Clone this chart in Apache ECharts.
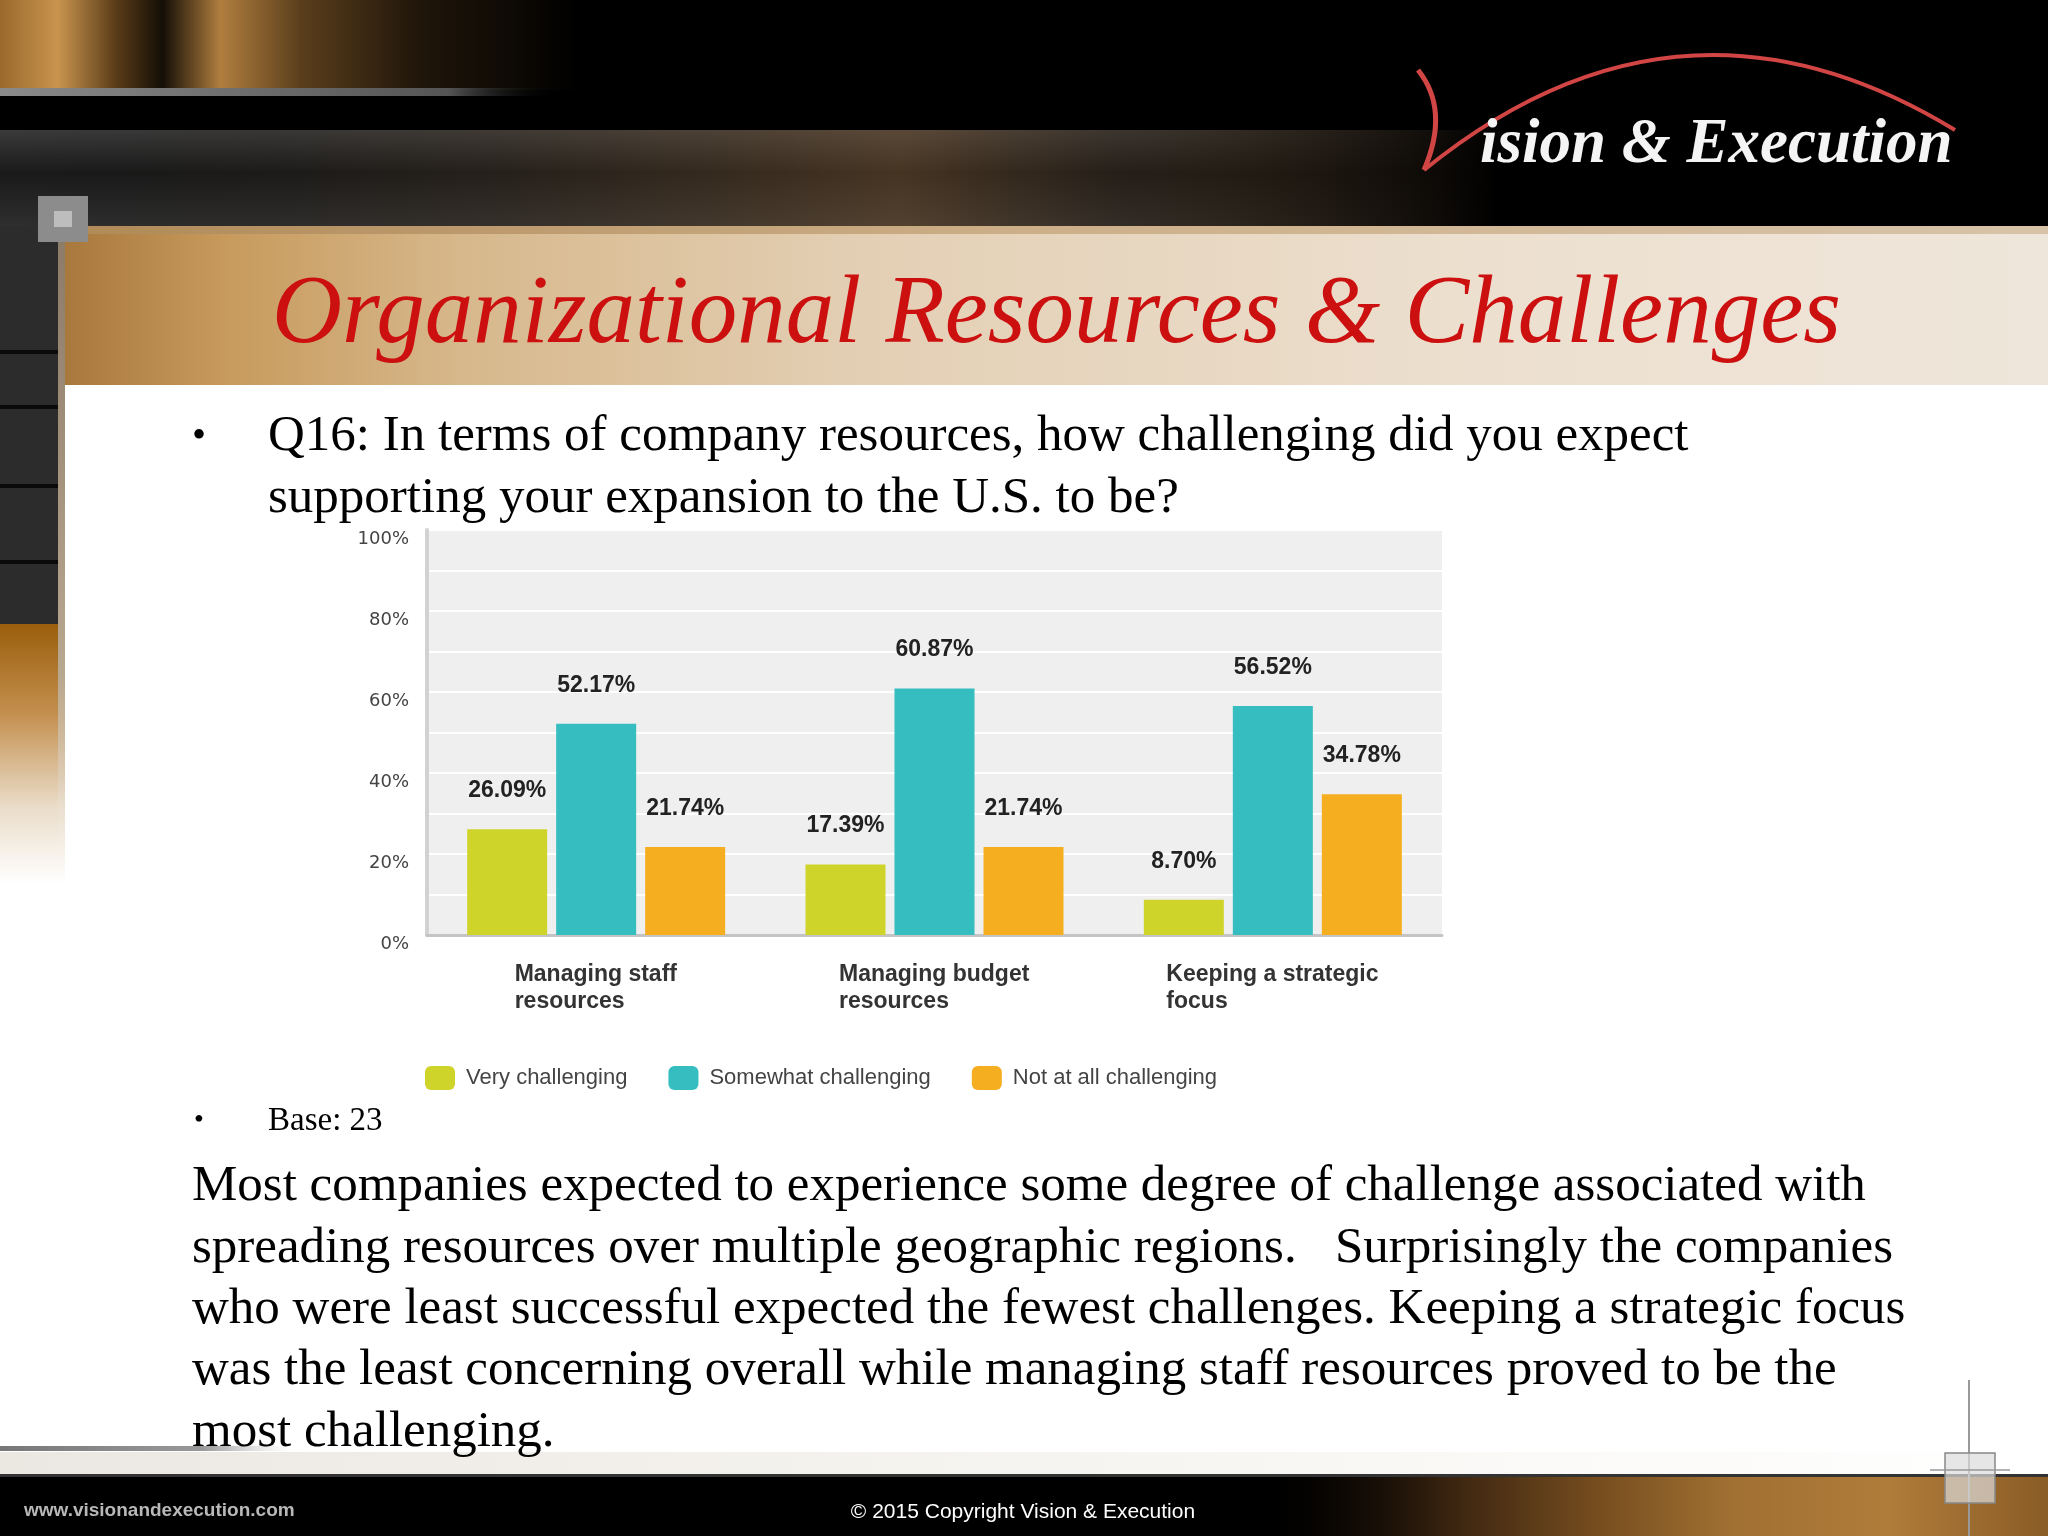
<!DOCTYPE html>
<html>
<head>
<meta charset="utf-8">
<title>Organizational Resources &amp; Challenges</title>
<script src="https://cdn.jsdelivr.net/npm/echarts@6/dist/echarts.min.js"></script>
<style>
  html, body { margin: 0; padding: 0; background: #ffffff; }
  #chart { width: 2048px; height: 1536px; }
</style>
</head>
<body>
<div id="chart"></div>
<script>
// ---------- data ----------
const categories = ['Managing staff\nresources', 'Managing budget\nresources', 'Keeping a strategic\nfocus'];
const seriesNames = ['Very challenging', 'Somewhat challenging', 'Not at all challenging'];
const veryChallenging = [26.09, 17.39, 8.70];
const somewhatChallenging = [52.17, 60.87, 56.52];
const notAtAllChallenging = [21.74, 21.74, 34.78];
const yMin = 0, yMax = 100, yInterval = 20;

const titleText = 'Organizational Resources & Challenges';
const questionLines = ['Q16: In terms of company resources, how challenging did you expect',
                       'supporting your expansion to the U.S. to be?'];
const baseText = 'Base: 23';
const paragraphLines = [
  'Most companies expected to experience some degree of challenge associated with',
  'spreading resources over multiple geographic regions.   Surprisingly the companies',
  'who were least successful expected the fewest challenges. Keeping a strategic focus',
  'was the least concerning overall while managing staff resources proved to be the',
  'most challenging.'
];
const logoText = 'ision & Execution';
const footerLeft = 'www.visionandexecution.com';
const footerCenter = '\u00A9 2015 Copyright Vision & Execution';

// ---------- styles ----------
const colors = ['#cfd42b', '#35bdbf', '#f5ae20'];
const catFont = 'bold 23px "Liberation Sans", Arial, sans-serif';
const serif = '"Liberation Serif", "Times New Roman", serif';

// measure category label widths so lines are left-aligned inside a centred block
const mctx = document.createElement('canvas').getContext('2d');
mctx.font = catFont;
const catRich = {};
categories.forEach((c, i) => {
  const w = Math.max(...c.split('\n').map(l => mctx.measureText(l).width));
  catRich['c' + i] = { width: Math.ceil(w), align: 'left', fontWeight: 'bold', fontSize: 23,
    fontFamily: '"Liberation Sans", Arial, sans-serif', color: '#333', lineHeight: 27 };
});

const chart = echarts.init(document.getElementById('chart'), null, { renderer: 'canvas' });

function mkSeries(name, data, color) {
  return {
    name: name, type: 'bar', data: data, barWidth: 80, barGap: '11.25%',
    itemStyle: { color: color },
    label: {
      show: true, position: 'top', distance: 27,
      formatter: p => p.value.toFixed(2) + '%',
      fontFamily: '"Liberation Sans", Arial, sans-serif', fontWeight: 'bold', fontSize: 23, color: '#222'
    },
    z: 3
  };
}

const graphics = [
  // ---- header ----
  { type: 'rect', shape: { x: 0, y: 0, width: 2048, height: 226 }, style: { fill: '#000' }, z: -10 },
  { type: 'rect', shape: { x: 0, y: 0, width: 580, height: 90 }, z: -9,
    style: { fill: new echarts.graphic.LinearGradient(0, 0, 1, 0, [
      { offset: 0, color: '#9a6a2c' }, { offset: 0.1, color: '#c8944e' }, { offset: 0.2, color: '#5a3c18' },
      { offset: 0.28, color: '#140e06' }, { offset: 0.38, color: '#b07e3e' }, { offset: 0.52, color: '#5a3e1c' },
      { offset: 0.72, color: '#20160a' }, { offset: 1, color: '#000' }]) } },
  { type: 'rect', shape: { x: 0, y: 88, width: 560, height: 8 }, z: -8,
    style: { fill: new echarts.graphic.LinearGradient(0, 0, 1, 0, [
      { offset: 0, color: '#8a8a8a' }, { offset: 0.8, color: '#555' }, { offset: 1, color: 'rgba(0,0,0,0)' }]) } },
  { type: 'rect', shape: { x: 0, y: 130, width: 1500, height: 96 }, z: -9,
    style: { fill: new echarts.graphic.LinearGradient(0, 0, 0, 1, [
      { offset: 0, color: '#3a3a3a' }, { offset: 0.45, color: '#1a1a1a' }, { offset: 1, color: '#2e2e2e' }]) } },
  { type: 'rect', shape: { x: 0, y: 130, width: 1500, height: 96 }, z: -8,
    style: { fill: new echarts.graphic.LinearGradient(0, 0, 1, 0, [
      { offset: 0, color: 'rgba(0,0,0,0)' }, { offset: 0.45, color: 'rgba(120,80,40,0.25)' },
      { offset: 0.6, color: 'rgba(150,100,50,0.35)' }, { offset: 0.75, color: 'rgba(60,40,20,0.3)' },
      { offset: 1, color: 'rgba(0,0,0,1)' }]) } },
  // logo
  { type: 'bezierCurve', z: 5, shape: { x1: 1418, y1: 70, x2: 1424, y2: 170, cpx1: 1450, cpy1: 110 },
    style: { stroke: '#d24545', lineWidth: 5, fill: null } },
  { type: 'bezierCurve', z: 5, shape: { x1: 1424, y1: 170, x2: 1955, y2: 130, cpx1: 1680, cpy1: -38 },
    style: { stroke: '#d24545', lineWidth: 4, fill: null } },
  { type: 'text', x: 1480, y: 146, z: 6,
    style: { text: logoText, fill: '#f4f4f4', font: 'italic bold 63px ' + serif, align: 'left', verticalAlign: 'middle' } },
  // ---- title band ----
  { type: 'rect', shape: { x: 65, y: 226, width: 1983, height: 159 }, z: -9,
    style: { fill: new echarts.graphic.LinearGradient(0, 0, 1, 0, [
      { offset: 0, color: '#a9783c' }, { offset: 0.08, color: '#c79a5c' }, { offset: 0.2, color: '#d7b88c' },
      { offset: 0.4, color: '#e3cfb4' }, { offset: 0.7, color: '#ecdfce' }, { offset: 1, color: '#efe6db' }]) } },
  { type: 'rect', shape: { x: 65, y: 226, width: 1983, height: 8 }, z: -8,
    style: { fill: new echarts.graphic.LinearGradient(0, 0, 1, 0, [
      { offset: 0, color: '#b08a58' }, { offset: 0.5, color: '#cdb08a' }, { offset: 1, color: '#d8c3a8' }]) } },
  { type: 'text', x: 272, y: 316, z: 6,
    style: { text: titleText, fill: '#cc1010', font: 'italic 97px ' + serif, align: 'left', verticalAlign: 'middle' } },
  // ---- left strip ----
  { type: 'rect', shape: { x: 0, y: 226, width: 65, height: 400 }, z: -9, style: { fill: '#2c2c2c' } },
  { type: 'rect', shape: { x: 0, y: 350, width: 65, height: 4 }, z: -8, style: { fill: '#0a0a0a' } },
  { type: 'rect', shape: { x: 0, y: 405, width: 65, height: 4 }, z: -8, style: { fill: '#0a0a0a' } },
  { type: 'rect', shape: { x: 0, y: 484, width: 65, height: 4 }, z: -8, style: { fill: '#0a0a0a' } },
  { type: 'rect', shape: { x: 0, y: 560, width: 65, height: 4 }, z: -8, style: { fill: '#0a0a0a' } },
  { type: 'rect', shape: { x: 0, y: 624, width: 65, height: 260 }, z: -9,
    style: { fill: new echarts.graphic.LinearGradient(0, 0, 0, 1, [
      { offset: 0, color: '#9a5e0c' }, { offset: 0.35, color: '#c49050' }, { offset: 0.7, color: '#eadcc8' }, { offset: 1, color: '#ffffff' }]) } },
  { type: 'rect', shape: { x: 58, y: 226, width: 7, height: 640 }, z: -7,
    style: { fill: new echarts.graphic.LinearGradient(0, 0, 0, 1, [
      { offset: 0, color: '#8a7a66' }, { offset: 0.7, color: '#b8a890' }, { offset: 1, color: 'rgba(255,255,255,0)' }]) } },
  { type: 'rect', shape: { x: 38, y: 196, width: 50, height: 46 }, z: -6, style: { fill: '#8c8c8c' } },
  { type: 'rect', shape: { x: 54, y: 211, width: 18, height: 16 }, z: -5, style: { fill: '#bdbdbd' } },
  // ---- body text ----
  { type: 'text', x: 199, y: 437, z: 6, style: { text: '\u2022', fill: '#000', font: '40px ' + serif, align: 'center', verticalAlign: 'middle' } },
  { type: 'text', x: 268, y: 437, z: 6, style: { text: questionLines[0], fill: '#000', font: '51px ' + serif, align: 'left', verticalAlign: 'middle' } },
  { type: 'text', x: 268, y: 499, z: 6, style: { text: questionLines[1], fill: '#000', font: '51px ' + serif, align: 'left', verticalAlign: 'middle' } },
  { type: 'text', x: 199, y: 1121, z: 6, style: { text: '\u2022', fill: '#000', font: '28px ' + serif, align: 'center', verticalAlign: 'middle' } },
  { type: 'text', x: 268, y: 1121, z: 6, style: { text: baseText, fill: '#000', font: '33px ' + serif, align: 'left', verticalAlign: 'middle' } },
  // ---- footer ----
  { type: 'rect', shape: { x: 0, y: 1452, width: 2048, height: 24 }, z: -9,
    style: { fill: new echarts.graphic.LinearGradient(0, 0, 1, 0, [
      { offset: 0, color: '#ebe8e2' }, { offset: 0.5, color: '#f6f4f0' }, { offset: 1, color: '#ffffff' }]) } },
  { type: 'rect', shape: { x: 0, y: 1446, width: 290, height: 5 }, z: -8,
    style: { fill: new echarts.graphic.LinearGradient(0, 0, 1, 0, [
      { offset: 0, color: '#777' }, { offset: 0.7, color: '#999' }, { offset: 1, color: 'rgba(200,200,200,0)' }]) } },
  { type: 'rect', shape: { x: 0, y: 1476, width: 2048, height: 60 }, z: -9, style: { fill: '#000' } },
  { type: 'rect', shape: { x: 1250, y: 1476, width: 798, height: 60 }, z: -8,
    style: { fill: new echarts.graphic.LinearGradient(0, 0, 1, 0, [
      { offset: 0, color: 'rgba(0,0,0,0)' }, { offset: 0.25, color: '#3a2410' }, { offset: 0.45, color: '#7a5020' },
      { offset: 0.6, color: '#a07032' }, { offset: 0.8, color: '#b07c3a' }, { offset: 1, color: '#8a5c26' }]) } },
  { type: 'rect', shape: { x: 0, y: 1474, width: 2048, height: 3 }, z: -7, style: { fill: '#333' } },
  { type: 'line', shape: { x1: 1969, y1: 1380, x2: 1969, y2: 1536 }, z: -6, style: { stroke: '#999', lineWidth: 2 } },
  { type: 'rect', shape: { x: 1945, y: 1453, width: 50, height: 50 }, z: -6, style: { fill: 'rgba(220,220,220,0.7)', stroke: '#888', lineWidth: 1.5 } },
  { type: 'line', shape: { x1: 1930, y1: 1470, x2: 2010, y2: 1470 }, z: -6, style: { stroke: '#999', lineWidth: 1.5 } },
  { type: 'text', x: 24, y: 1511, z: 6, style: { text: footerLeft, fill: '#b8b8b8', font: 'bold 19px "Liberation Sans", Arial, sans-serif', align: 'left', verticalAlign: 'middle' } },
  { type: 'text', x: 1023, y: 1512, z: 6, style: { text: footerCenter, fill: '#ffffff', font: '21px "Liberation Sans", Arial, sans-serif', align: 'center', verticalAlign: 'middle' } }
];
paragraphLines.forEach((line, i) => {
  graphics.push({ type: 'text', x: 192, y: 1187 + i * 61.3, z: 6,
    style: { text: line, fill: '#000', font: '51px ' + serif, align: 'left', verticalAlign: 'middle' } });
});

const option = {
  backgroundColor: '#ffffff',
  animation: false,
  grid: { left: 427, top: 530, right: 606, bottom: 601, show: true, backgroundColor: '#efefef', borderWidth: 0, containLabel: false },
  legend: {
    data: seriesNames, left: 420, top: 1061, icon: 'roundRect', itemWidth: 30, itemHeight: 24, itemGap: 41,
    textStyle: { fontFamily: '"Liberation Sans", Arial, sans-serif', fontSize: 22, color: '#444', padding: [0, 0, 0, 6] }
  },
  xAxis: {
    type: 'category', data: categories,
    axisLine: { show: true, lineStyle: { color: '#c4c4c4', width: 3 } },
    axisTick: { show: false },
    axisLabel: {
      margin: 26, interval: 0,
      formatter: (v, i) => v.split('\n').map(l => '{c' + i + '|' + l + '}').join('\n'),
      rich: catRich
    }
  },
  yAxis: {
    type: 'value', min: yMin, max: yMax, interval: yInterval,
    axisLine: { show: true, lineStyle: { color: '#d2d2d2', width: 4 } },
    axisTick: { show: false },
    axisLabel: { formatter: '{value}%', margin: 18, fontFamily: '"DejaVu Sans", Verdana, sans-serif', fontSize: 18, color: '#444', verticalAlign: 'top' },
    splitLine: { show: true, lineStyle: { color: '#ffffff', width: 2 } },
    minorTick: { show: false, splitNumber: 2 },
    minorSplitLine: { show: true, lineStyle: { color: '#ffffff', width: 2 } }
  },
  series: [
    mkSeries(seriesNames[0], veryChallenging, colors[0]),
    mkSeries(seriesNames[1], somewhatChallenging, colors[1]),
    mkSeries(seriesNames[2], notAtAllChallenging, colors[2])
  ],
  graphic: { elements: graphics }
};
chart.setOption(option);
</script>
</body>
</html>
